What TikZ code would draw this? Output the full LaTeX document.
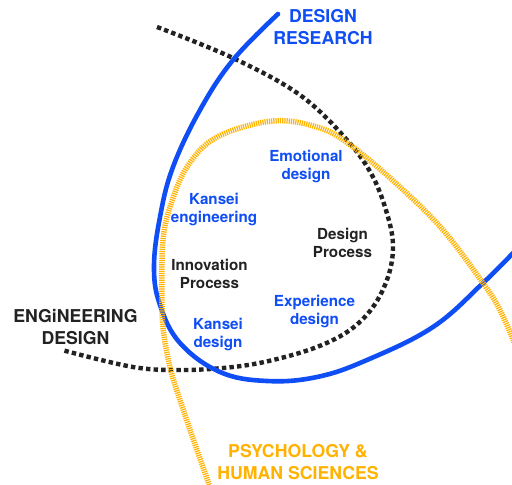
\documentclass[tikz,border=0pt]{standalone}
\usepackage{fontspec}
\setmainfont{TeX Gyre Heros}
\definecolor{dblue}{RGB}{16,78,245}
\definecolor{dorange}{RGB}{255,178,0}
\definecolor{dgray}{RGB}{34,34,34}
\begin{document}
\begin{tikzpicture}[x=1pt,y=-1pt,
  bluecurve/.style={draw=dblue,line width=4.6pt,line cap=round},
  blackcurve/.style={draw=dgray,line width=4.4pt,dash pattern=on 4.4pt off 3.2pt},
  orangecurve/.style={draw=dorange,line width=5.5pt,dash pattern=on 1.2pt off 1pt},
  biglabel/.style={font=\fontsize{17.7}{21.5}\selectfont\bfseries,align=center,anchor=base},
  smalllabel/.style={font=\fontsize{15.2}{17.6}\selectfont\bfseries,align=center,anchor=base},
]
\useasboundingbox[fill=white] (0,0) rectangle (512,485);
% black dotted curve (engineering design / design process)
\draw[blackcurve] plot[smooth,tension=0.6] coordinates {
 (157,27) (233,58) (300,95) (347,140) (373,177) (388,217) (393,247) (388,277)
 (373,307) (350,330) (317,347) (273,360) (233,367) (183,370) (133,367) (62,350)};
% blue curve (design research)
\draw[bluecurve] plot[smooth,tension=0.65] coordinates {
 (278,14) (233,60) (200,110) (173,167) (160,217) (154,267) (160,305)
 (180,343) (220,372) (267,381) (317,377) (367,360) (433,327) (483,283) (514,252)};
% orange curve (psychology)
\draw[orangecurve] plot[smooth,tension=0.6] coordinates {
 (210,487) (197,450) (180,400) (170,367) (163,327) (162,283) (163,240) (170,207)
 (187,167) (217,137) (273,121) (320,128) (353,147) (400,187) (443,230) (483,283)
 (500,310) (514,342)};
% labels
\node[biglabel,text=dblue] (dr) at (323,44) {DESIGN\\RESEARCH};
\node[biglabel,text=dgray] (ed) at (75.5,344) {ENGiNEERING\\DESIGN};
\node[biglabel,text=dorange] (ps) at (298,479) {PSYCHOLOGY \&\\HUMAN SCIENCES};
\node[smalllabel,text=dblue] (emo) at (306,179.5) {Emotional\\design};
\node[smalllabel,text=dblue] (ke) at (214,222) {Kansei\\engineering};
\node[smalllabel,text=dgray] (dp) at (342.5,257) {Design\\Process};
\node[smalllabel,text=dgray] (ip) at (209.5,288) {Innovation\\Process};
\node[smalllabel,text=dblue] (exp) at (314.5,324) {Experience\\design};
\node[smalllabel,text=dblue] (kd) at (218,347) {Kansei\\design};
\end{tikzpicture}
\end{document}
